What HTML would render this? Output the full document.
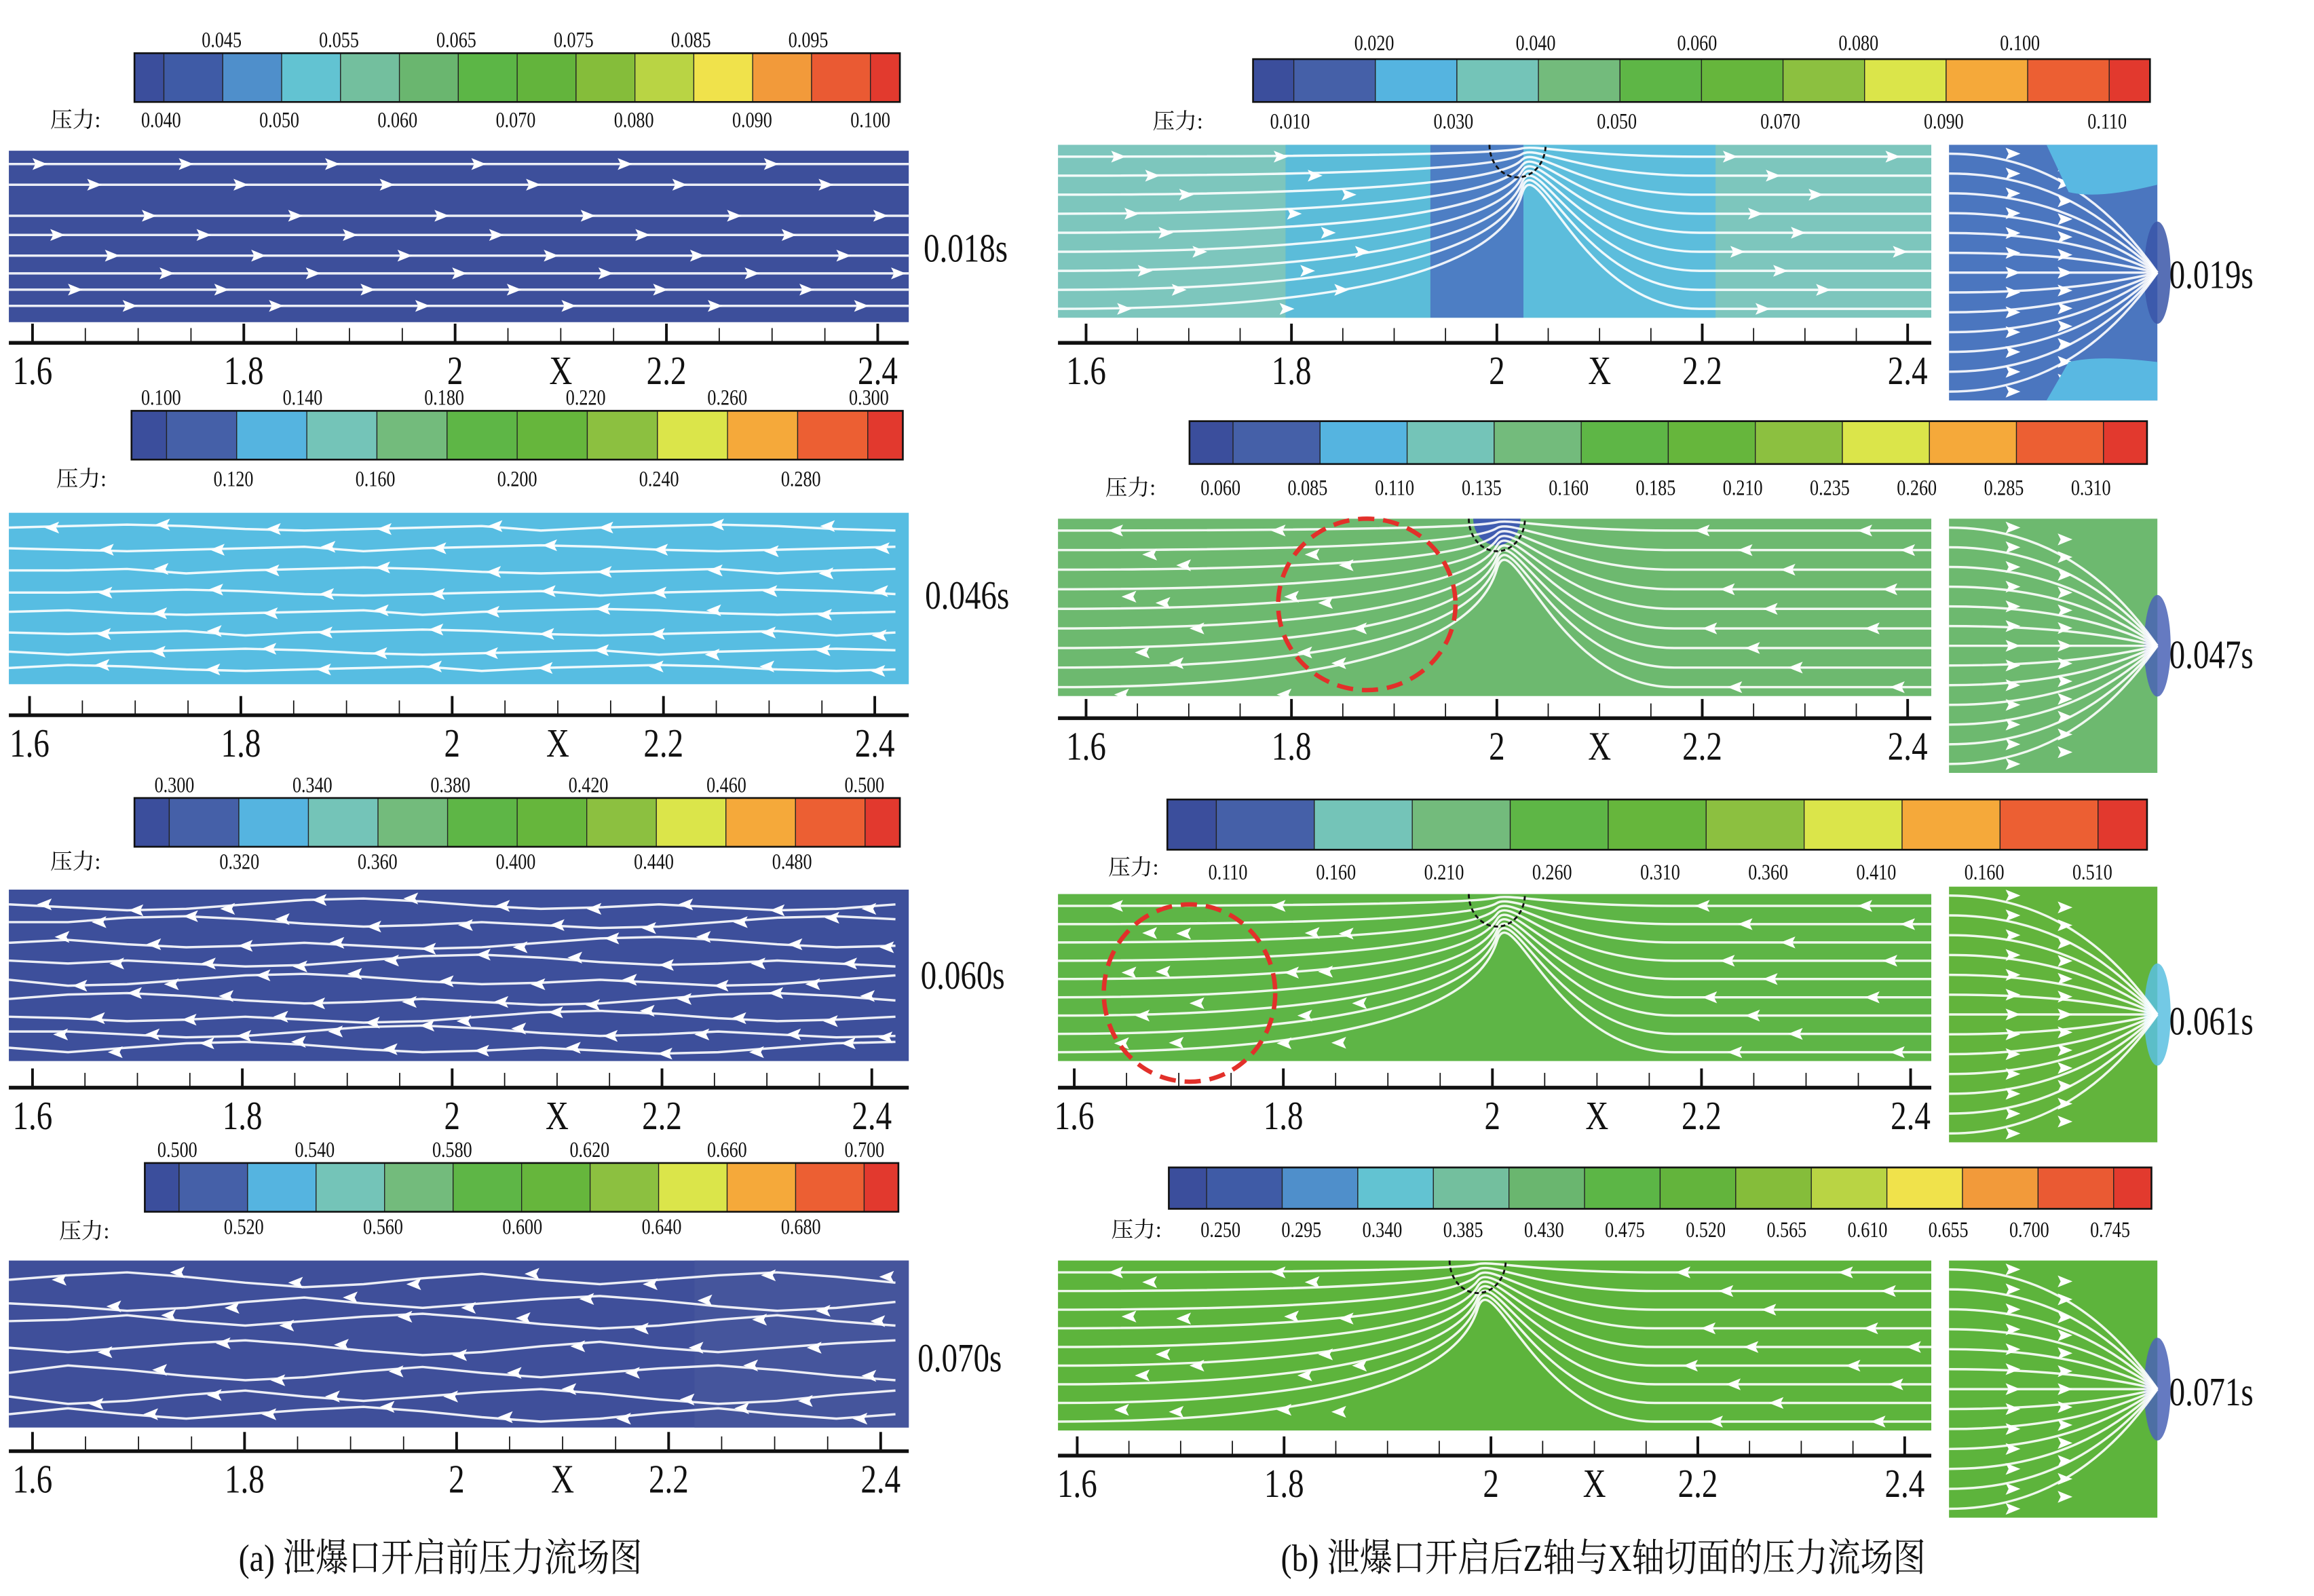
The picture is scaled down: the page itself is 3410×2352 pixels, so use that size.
<!DOCTYPE html>
<html><head><meta charset="utf-8">
<style>
html,body{margin:0;padding:0;background:#fff;}
svg{display:block;}
</style></head>
<body>
<svg id="fig" xmlns="http://www.w3.org/2000/svg" width="3410" height="2352" viewBox="0 0 1566 1080" preserveAspectRatio="none">
<rect x="0" y="0" width="1566" height="1080" fill="#fff"/>
<g id="root"></g>
</svg>
<script>
// ---- data ----
var xTickValues = [1.6,1.65,1.7,1.75,1.8,1.85,1.9,1.95,2.0,2.05,2.1,2.15,2.2,2.25,2.3,2.35,2.4];
var xTickLabels = ['1.6','1.8','2','2.2','2.4'];
var xLabelValues = [1.6,1.8,2.0,2.2,2.4];
var cbTopA1 = ['0.045','0.055','0.065','0.075','0.085','0.095'];
var cbBotA1 = ['0.040','0.050','0.060','0.070','0.080','0.090','0.100'];
var cbTopA2 = ['0.100','0.140','0.180','0.220','0.260','0.300'];
var cbBotA2 = ['0.120','0.160','0.200','0.240','0.280'];
var cbTopA3 = ['0.300','0.340','0.380','0.420','0.460','0.500'];
var cbBotA3 = ['0.320','0.360','0.400','0.440','0.480'];
var cbTopA4 = ['0.500','0.540','0.580','0.620','0.660','0.700'];
var cbBotA4 = ['0.520','0.560','0.600','0.640','0.680'];
var cbTopB1 = ['0.020','0.040','0.060','0.080','0.100'];
var cbBotB1 = ['0.010','0.030','0.050','0.070','0.090','0.110'];
var cbBotB2 = ['0.060','0.085','0.110','0.135','0.160','0.185','0.210','0.235','0.260','0.285','0.310'];
var cbBotB3 = ['0.110','0.160','0.210','0.260','0.310','0.360','0.410','0.160','0.510'];
var cbBotB4 = ['0.250','0.295','0.340','0.385','0.430','0.475','0.520','0.565','0.610','0.655','0.700','0.745'];
var timeLabelsA = ['0.018s','0.046s','0.060s','0.070s'];
var timeLabelsB = ['0.019s','0.047s','0.061s','0.071s'];

var NS='http://www.w3.org/2000/svg';
var root=document.getElementById('root');
var colors14=['#3b4e9c','#3f5ba6','#4f8fcb','#62c3d2','#73bf9e','#6ab66f','#5cb646','#63b43c','#85bd3a','#b9d444','#f0e24b','#f29a3a','#ea5a33','#e23a2e'];
var colors12=['#3b4e9c','#4560a8','#55b4e0','#74c4b8','#73bb7c','#5eb646','#66b63c','#8cc040','#dbe54a','#f5a93a','#ec5f33','#e2392e'];
function el(tag,attrs,parent){var e=document.createElementNS(NS,tag);for(var k in attrs)e.setAttribute(k,attrs[k]);(parent||root).appendChild(e);return e;}
function txt(x,y,s,size,anchor,sx,parent,fam){
  var t=el('text',{transform:'translate('+x+','+y+') scale('+(sx||0.8)+',1)','font-size':size,'text-anchor':anchor||'middle','font-family':fam||'"Liberation Serif","Noto Serif CJK SC",serif',fill:'#111'},parent);
  t.textContent=s;return t;}
function colorbar(x0,x1,y0,y1,cols,name){
  var g=el('g',{});
  
  
  var n=cols.length-1; var u=(x1-x0)/n; var x=x0;
  for(var i=0;i<cols.length;i++){var w=(i==0||i==cols.length-1)?u/2:u;
    var r=el('rect',{x:x,y:y0,width:w,height:y1-y0,fill:cols[i],stroke:'#222','stroke-width':0.6},g);
    
    
    x+=w;}
  el('rect',{x:x0,y:y0,width:x1-x0,height:y1-y0,fill:'none',stroke:'#111','stroke-width':1.2},g);
  return g;}
function labelsRow(arr,xa,xb,y,size){for(var i=0;i<arr.length;i++){var x=arr.length>1?xa+(xb-xa)*i/(arr.length-1):xa;var t=txt(x,y,arr[i],size||15);}}
function pressureLabel(x,y){var t=txt(x,y,'压力:',15,'start',1);}
function axis(x0,x1,y,v0px,v1px,name){
  var g=el('g',{});
  
  
  function sx(v){return v0px+(v-1.6)/(0.8)*(v1px-v0px);}
  el('line',{x1:x0,y1:y,x2:x1,y2:y,stroke:'#111','stroke-width':2.5},g);
  for(var i=0;i<xTickValues.length;i++){var v=xTickValues[i];var maj=Math.abs((v-1.6)/0.2-Math.round((v-1.6)/0.2))<1e-6;
    var tk=el('line',{x1:sx(v),y1:y,x2:sx(v),y2:y-(maj?13:10),stroke:'#111','stroke-width':maj?1.8:0.8},g);
    
    }
  for(var j=0;j<xTickLabels.length;j++){var t=txt(sx(xLabelValues[j]),y+28,xTickLabels[j],27,'middle',0.8,g);}
  var xt=txt((sx(2.0)+sx(2.2))/2,y+28,'X',27,'middle',0.8,g);
  return sx;}
function stream(d,parent){var p=el('path',{d:d,fill:'none',stroke:'#fff','stroke-width':1.6,'stroke-opacity':0.9},parent);return p;}
function arrow(x,y,dir,parent){var a=el('path',{d:'M'+(x+6*dir)+','+y+' L'+(x-4*dir)+','+(y-4)+' L'+(x-2*dir)+','+y+' L'+(x-4*dir)+','+(y+4)+'Z',fill:'#fff'},parent);}
function flatStreams(x0,x1,ys,dir,step,off,parent,wav){
  for(var i=0;i<ys.length;i++){var y=ys[i];var d='M'+x0+','+y;
    if(wav){for(var x=x0+40;x<=x1;x+=40){d+=' L'+x+','+(y+wav[(i*3+x/40|0)%wav.length]);} }else d+=' L'+x1+','+y;
    stream(d,parent);
    for(var x=x0+off+(i*37%step);x<x1-5;x+=step)arrow(x,y+(wav?wav[(i*3+(x-x0)/40|0)%wav.length]:0),dir,parent);}}
function plot(x,y,w,h,fill,name){var g=el('g',{});
  var r=el('rect',{x:x,y:y,width:w,height:h,fill:fill},g);return g;}
function timeLabel(x,y,s){var t=txt(x,y,s,27,'start',0.8);}

// ---------- LEFT COLUMN ----------
colorbar(91,609,36,69,colors14,'colorbar-a1');labelsRow(cbTopA1,150,547,32);labelsRow(cbBotA1,109,589,86);pressureLabel(34,86);
var g=plot(6,102,609,116,'#3d4f9b','plot-a1');
flatStreams(6,615,[111,125,146,159,173,185,196,207],1,99,20,g);
axis(6,615,232,22,594,'x-axis-a1');timeLabel(625,177,timeLabelsA[0]);

colorbar(89,611,278,311,colors12,'colorbar-a2');labelsRow(cbTopA2,109,588,274);labelsRow(cbBotA2,158,542,329);pressureLabel(38,329);
g=plot(6,347,609,116,'#57bde2','plot-a2');
flatStreams(6,615,[357,371,386,401,414,428,441,452],-1,75,30,g,[0,-1,-2,-1,1,2,1,0,-1,2]);
axis(6,615,484,20,592,'x-axis-a2');timeLabel(626,412,timeLabelsA[1]);

colorbar(91,609,540,573,colors12,'colorbar-a3');labelsRow(cbTopA3,118,585,536);labelsRow(cbBotA3,162,536,588);pressureLabel(34,588);
g=plot(6,602,609,116,'#3d4f9b','plot-a3');
flatStreams(6,615,[612,624,638,650,663,676,688,698,709],-1,62,25,g,[0,2,4,3,0,-3,-4,-2,1,3,2]);
axis(6,615,736,22,590,'x-axis-a3');timeLabel(623,669,timeLabelsA[2]);

colorbar(98,608,787,820,colors12,'colorbar-a4');labelsRow(cbTopA4,120,585,783);labelsRow(cbBotA4,165,542,835);pressureLabel(40,838);
g=plot(6,853,609,113,'#3f4f9a','plot-a4');
el('rect',{x:470,y:853,width:145,height:113,fill:'#45559c'},g);
flatStreams(6,615,[866,882,894,912,929,945,957],-1,80,35,g,[0,-3,-5,-2,2,5,3,-1,-4,0,3]);
axis(6,615,982,22,596,'x-axis-a4');timeLabel(621,928,timeLabelsA[3]);

// ---------- RIGHT COLUMN ----------
function sidePlot(x,y,w,h,fill,edge,name){var g=plot(x,y,w,h,fill,name);
  el('ellipse',{cx:x+w,cy:y+h*0.5,rx:9,ry:h*0.2,fill:edge,opacity:0.85},g);
  var cx=x+w, cy=y+h*0.5;
  for(var i=0;i<13;i++){var yy=y+6+i*(h-12)/12;var d='M'+x+','+yy+' C'+(x+w*0.5)+','+yy+' '+(x+w*0.8)+','+(yy*0.5+cy*0.5)+' '+cx+','+cy;stream(d,g);
    arrow(x+w*0.3,yy,1,g);arrow(x+w*0.55,yy*0.9+cy*0.1,1,g);}
  return g;}
function hole(x,y){var h=el('path',{d:'M'+(x-19)+','+y+' A19,22 0 0 0 '+(x+19)+','+y,fill:'none',stroke:'#111','stroke-width':1.3,'stroke-dasharray':'3,2'});}
function redCircle(cx,cy,rx,ry){var c=el('ellipse',{cx:cx,cy:cy,rx:rx,ry:ry,fill:'none',stroke:'#e2302a','stroke-width':3,'stroke-dasharray':'11,6'});}
function fanStreams(x0,x1,yTop,yBot,vx,dir,g,wav){
  var n=9;for(var i=0;i<n;i++){var y=yTop+8+i*(yBot-yTop-14)/(n-1);
    var d='M'+x0+','+y+' C'+(vx-60)+','+y+' '+(vx-10)+','+(y*0.6+yTop*0.4)+' '+vx+','+(y*0.3+yTop*0.7)+' S'+(vx+40)+','+y+' '+(vx+120)+','+y+' L'+x1+','+y;stream(d,g);
    for(var x=vx+140+(i*29%70);x<x1-10;x+=110)arrow(x,y,dir,g);
    for(var x=x0+40+(i*23%60);x<vx-70;x+=110)arrow(x,y+(wav?wav[i%wav.length]:0),dir,g);}}

colorbar(848,1455,40,69,colors12,'colorbar-b1');labelsRow(cbTopB1,930,1367,34);labelsRow(cbBotB1,873,1426,87);pressureLabel(780,87);
g=plot(716,98,591,117,'#7dc6bd','plot-b1');
el('rect',{x:870,y:98,width:98,height:117,fill:'#5bbcd9'},g);
el('rect',{x:968,y:98,width:63,height:117,fill:'#4d7ec4'},g);
el('rect',{x:1031,y:98,width:130,height:117,fill:'#5cbddc'},g);
fanStreams(716,1307,98,215,1030,1,g);
hole(1027,98);
sidePlot(1319,98,141,173,'#4b76bf','#3a56a8','side-b1');
el('path',{d:'M1385,98 L1460,98 L1460,125 Q1420,135 1400,130 Z',fill:'#59b8e2'});
el('path',{d:'M1385,271 L1460,271 L1460,245 Q1420,240 1400,245 Z',fill:'#59b8e2'});
axis(716,1307,232,735,1291,'x-axis-b1');timeLabel(1468,195,timeLabelsB[0]);

colorbar(805,1453,285,314,colors12,'colorbar-b2');labelsRow(cbBotB2,826,1415,335);pressureLabel(748,335);
g=plot(716,351,591,120,'#6db96f','plot-b2');
el('path',{d:'M997,351 A16,18 0 0 0 1029,351 Z',fill:'#3f5cb0'},g);
fanStreams(716,1307,351,471,1013,-1,g,[0,3,-3,5,-4]);
hole(1013,351);
redCircle(925,409,60,58);
sidePlot(1319,351,141,172,'#6db96f','#4a63b6','side-b2');
axis(716,1307,486,735,1291,'x-axis-b2');timeLabel(1468,452,timeLabelsB[1]);

colorbar(790,1453,541,575,colors12.slice(0,2).concat(colors12.slice(3)),'colorbar-b3');labelsRow(cbBotB3,831,1416,595);pressureLabel(750,592);
g=plot(716,605,591,113,'#5eb546','plot-b3');
fanStreams(716,1307,605,718,1013,-1,g,[0,6,-6,8,-5,4]);
hole(1013,605);
redCircle(805,672,58,60);
sidePlot(1319,600,141,173,'#62b43c','#5bbfe0','side-b3');
axis(716,1307,736,727,1293,'x-axis-b3');timeLabel(1468,700,timeLabelsB[2]);

colorbar(791,1456,790,818,colors14,'colorbar-b4');labelsRow(cbBotB4,826,1428,837);pressureLabel(752,837);
g=plot(716,853,591,115,'#5db43c','plot-b4');
fanStreams(716,1307,853,968,1000,-1,g,[0,-6,6,-8,5]);
hole(1000,853);
sidePlot(1319,853,141,174,'#5db43c','#4a63b6','side-b4');
axis(716,1307,985,729,1289,'x-axis-b4');timeLabel(1468,951,timeLabelsB[3]);

// captions
var c1=txt(298,1063,'(a) 泄爆口开启前压力流场图',26,'middle',0.85);


var c2=txt(1085,1063,'(b) 泄爆口开启后Z轴与X轴切面的压力流场图',26,'middle',0.85);


</script>
</body></html>
